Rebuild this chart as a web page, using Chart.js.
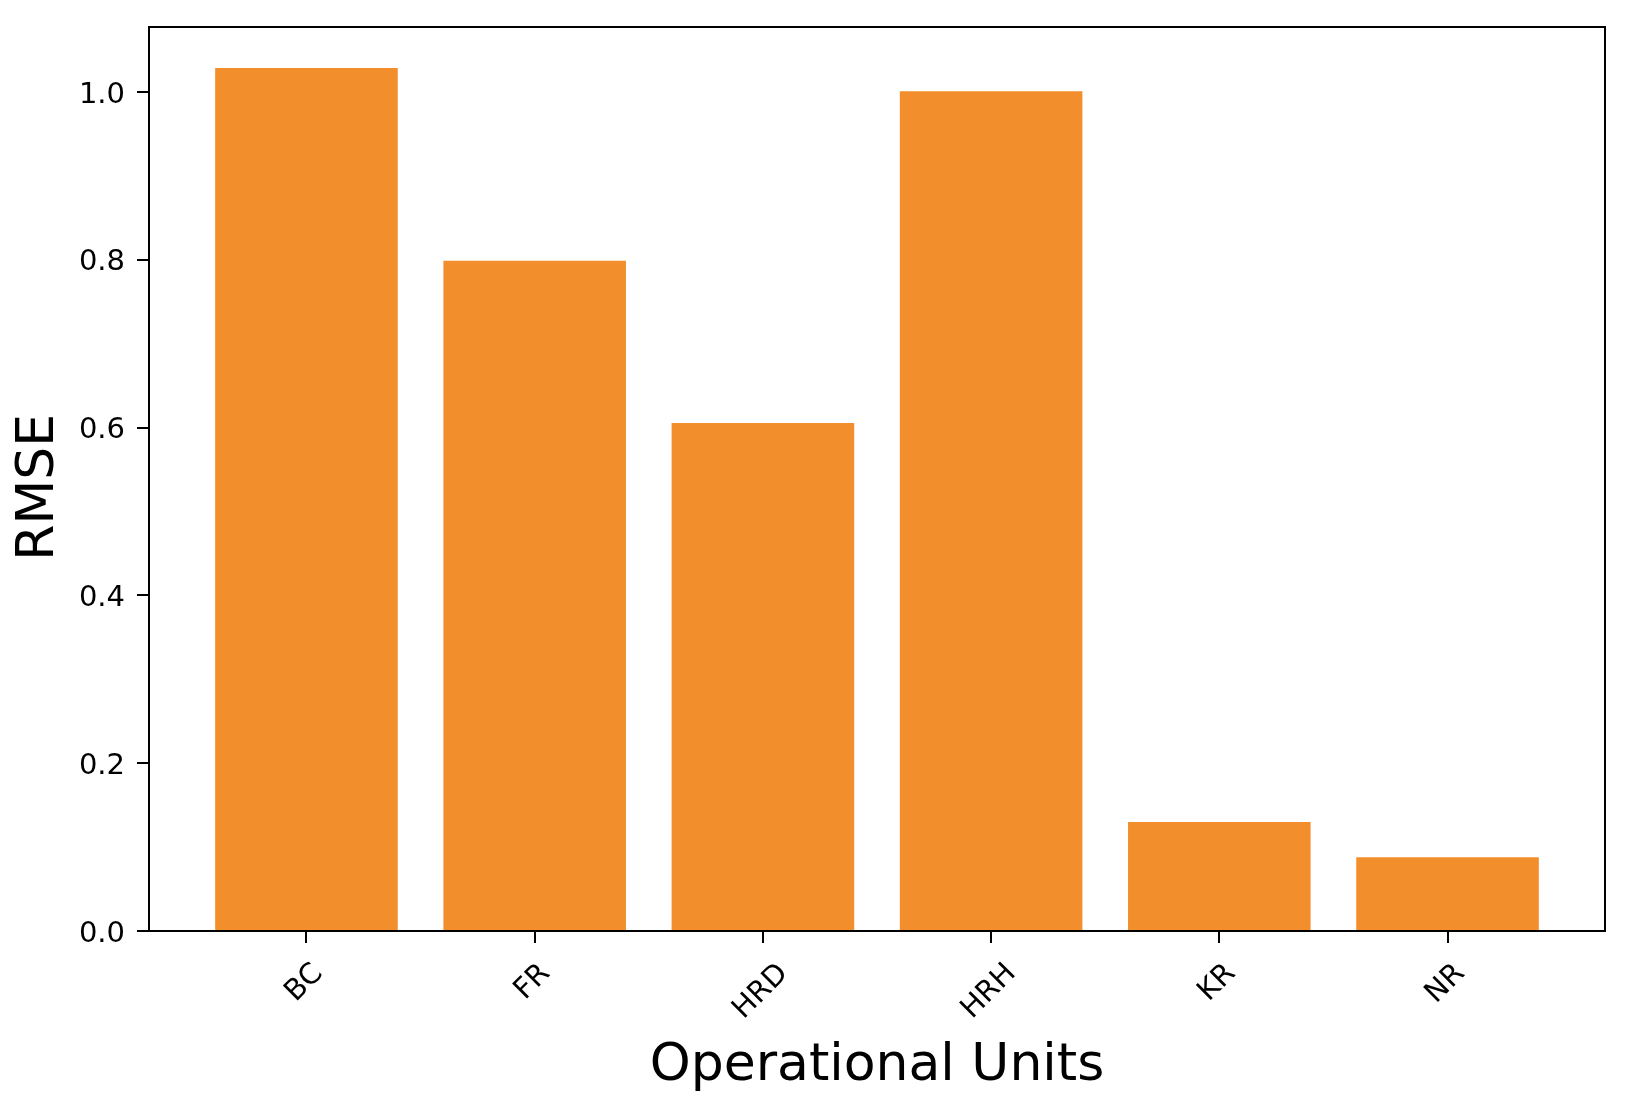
<!DOCTYPE html>
<html>
<head>
<meta charset="utf-8">
<script src="https://cdn.jsdelivr.net/npm/chart.js@4.4.1/dist/chart.umd.min.js"></script>
<style>
  html, body { margin: 0; padding: 0; background: #fff; }
  #wrap { width: 1631px; height: 1106px; }
</style>
</head>
<body>
<div id="wrap"><canvas id="rmseChart" width="1631" height="1106"></canvas></div>
<script>
// ================= DATA =================
var units = ["BC", "FR", "HRD", "HRH", "KR", "NR"];
var rmse = [1.0286, 0.799, 0.6055, 1.001, 0.130, 0.088];
var yTicks = [0.0, 0.2, 0.4, 0.6, 0.8, 1.0];

var barColor = "#f28e2b";
var tickFont = { family: "DejaVu Sans", size: 29 };
var titleFont = { family: "DejaVu Sans", size: 52 };

// bars sit on a linear x axis so the side margins match the original
var points = units.map(function (u, i) {
  return { x: i, y: rmse[i] };
});

// ================= PLUGINS =================
// top + right spines
var frame = {
  id: "frame",
  afterDraw: function (chart) {
    var a = chart.chartArea;
    var ctx = chart.ctx;
    ctx.save();
    ctx.strokeStyle = "#000";
    ctx.lineWidth = 2;
    ctx.beginPath();
    ctx.moveTo(a.left, a.top);
    ctx.lineTo(a.right, a.top);
    ctx.lineTo(a.right, a.bottom);
    ctx.stroke();
    ctx.restore();
  }
};

// 45 degree labels centred under their ticks
var unitLabels = {
  id: "unitLabels",
  afterDraw: function (chart) {
    var xs = chart.scales.x;
    var ctx = chart.ctx;
    ctx.save();
    ctx.font = tickFont.size + "px " + tickFont.family;
    ctx.fillStyle = "#000";
    ctx.textAlign = "center";
    ctx.textBaseline = "middle";
    units.forEach(function (u, i) {
      var w = ctx.measureText(u).width;
      var cx = xs.getPixelForValue(i) - 2;
      var cy = xs.top + 26 + (w + 34) * 0.354;
      ctx.save();
      ctx.translate(cx, cy);
      ctx.rotate(-Math.PI / 4);
      ctx.fillText(u, 0, 0);
      ctx.restore();
    });
    ctx.restore();
  }
};

// ================= CHART =================
var ctx = document.getElementById("rmseChart").getContext("2d");
var chart = new Chart(ctx, {
  type: "bar",
  data: {
    datasets: [{
      label: "RMSE",
      data: points,
      backgroundColor: barColor,
      borderWidth: 0,
      barPercentage: 0.8,
      categoryPercentage: 1.0
    }]
  },
  options: {
    responsive: false,
    animation: false,
    layout: { padding: { top: 27, right: 26, left: 0, bottom: 0 } },
    plugins: {
      legend: { display: false },
      tooltip: { enabled: false }
    },
    scales: {
      x: {
        type: "linear",
        min: -0.69,
        max: 5.69,
        offset: false,
        afterBuildTicks: function (scale) {
          scale.ticks = units.map(function (u, i) { return { value: i }; });
        },
        afterFit: function (scale) { scale.height = 175; },
        ticks: { display: false },
        grid: {
          offset: false,
          drawOnChartArea: false,
          drawTicks: true,
          tickLength: 12,
          color: "#000",
          lineWidth: 2
        },
        border: { display: true, color: "#000", width: 2 },
        title: {
          display: true,
          text: "Operational Units",
          color: "#000",
          font: titleFont,
          padding: { top: 0, bottom: 8 }
        }
      },
      y: {
        type: "linear",
        min: 0,
        max: 1.0775,
        afterBuildTicks: function (scale) {
          scale.ticks = yTicks.map(function (v) { return { value: v }; });
        },
        afterFit: function (scale) {
          scale.width = 149;
          scale.paddingTop = 0;
          scale.paddingBottom = 0;
        },
        ticks: {
          color: "#000",
          font: tickFont,
          padding: 12,
          labelOffset: 3,
          callback: function (value) { return Number(value).toFixed(1); }
        },
        grid: {
          drawOnChartArea: false,
          drawTicks: true,
          tickLength: 12,
          color: "#000",
          lineWidth: 2
        },
        border: { display: true, color: "#000", width: 2 },
        title: {
          display: true,
          text: "RMSE ",
          color: "#000",
          font: titleFont,
          padding: { top: 8, bottom: 0 }
        }
      }
    }
  },
  plugins: [frame, unitLabels]
});
</script>
</body>
</html>
